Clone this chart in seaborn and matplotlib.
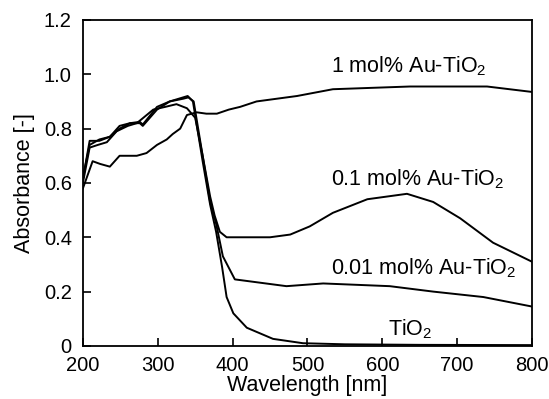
import pandas as pd
import seaborn as sns
import matplotlib.pyplot as plt

# Absorbance spectra
wl_1 = [200, 213, 223, 236, 249, 263, 272, 285, 299, 312, 320, 330, 339, 352, 365, 379,
        395, 410, 432, 486, 534, 637, 740, 800]
abs_1 = [0.58, 0.68, 0.67, 0.66, 0.70, 0.70, 0.70, 0.71, 0.74, 0.76, 0.78, 0.80, 0.85,
         0.86, 0.855, 0.855, 0.87, 0.88, 0.90, 0.92, 0.945, 0.955, 0.955, 0.935]

wl_01 = [200, 209, 220, 232, 245, 260, 272, 294, 310, 325, 339, 350, 360, 370, 376, 383,
         392, 414, 450, 477, 503, 534, 580, 633, 668, 704, 748, 800]
abs_01 = [0.60, 0.73, 0.74, 0.75, 0.79, 0.81, 0.82, 0.87, 0.88, 0.89, 0.875, 0.84, 0.70,
          0.55, 0.48, 0.42, 0.40, 0.40, 0.40, 0.41, 0.44, 0.49, 0.54, 0.56, 0.53, 0.47,
          0.38, 0.31]

wl_001 = [200, 209, 222, 236, 249, 263, 276, 280, 299, 316, 334, 341, 348, 360, 370, 378,
          387, 403, 472, 521, 610, 668, 735, 800]
abs_001 = [0.62, 0.74, 0.76, 0.77, 0.80, 0.82, 0.82, 0.81, 0.87, 0.90, 0.91, 0.915, 0.90,
           0.70, 0.53, 0.45, 0.33, 0.245, 0.22, 0.23, 0.22, 0.20, 0.18, 0.145]

wl_tio2 = [200, 209, 222, 236, 249, 263, 276, 280, 299, 316, 334, 340, 347, 360, 370, 378,
           386, 392, 401, 419, 454, 494, 550, 650, 800]
abs_tio2 = [0.615, 0.755, 0.755, 0.77, 0.81, 0.82, 0.825, 0.815, 0.88, 0.90, 0.915, 0.92,
            0.90, 0.68, 0.52, 0.42, 0.29, 0.18, 0.12, 0.067, 0.026, 0.01, 0.006, 0.004, 0.003]

plt.rcParams['font.family'] = ['Liberation Sans', 'DejaVu Sans']
plt.rcParams['mathtext.fontset'] = 'custom'
plt.rcParams['mathtext.rm'] = 'Liberation Sans'
plt.rcParams['mathtext.it'] = 'Liberation Sans:italic'

fig, ax = plt.subplots(figsize=(5.49, 3.99), dpi=100)
fig.subplots_adjust(left=0.151, right=0.969, bottom=0.133, top=0.95)

for wl, ab in [(wl_1, abs_1), (wl_01, abs_01), (wl_001, abs_001), (wl_tio2, abs_tio2)]:
    sns.lineplot(x=wl, y=ab, ax=ax, color='black', linewidth=1.4)

ax.set_xlim(200, 800)
ax.set_ylim(0, 1.2)
ax.set_xticks([200, 300, 400, 500, 600, 700, 800])
ax.set_yticks([0, 0.2, 0.4, 0.6, 0.8, 1.0, 1.2])
ax.set_yticklabels(['0', '0.2', '0.4', '0.6', '0.8', '1.0', '1.2'])
ax.tick_params(direction='in', length=6, width=1.2, labelsize=14.5, top=False, right=False)
ax.tick_params(axis='x', pad=7)
ax.tick_params(axis='y', pad=8)
for s in ax.spines.values():
    s.set_linewidth(1.3)
ax.set_xlabel('Wavelength [nm]', fontsize=15.5, labelpad=0)
ax.set_ylabel('Absorbance [-]', fontsize=15.5, labelpad=6)

ax.text(531, 1.03, '1 mol% Au-TiO$_2$', fontsize=15.5, va='center')
ax.text(531, 0.615, '0.1 mol% Au-TiO$_2$', fontsize=15.5, va='center')
ax.text(531, 0.285, '0.01 mol% Au-TiO$_2$', fontsize=15.5, va='center')
ax.text(608, 0.06, 'TiO$_2$', fontsize=15.5, va='center')

fig.savefig('out.png', dpi=100)
